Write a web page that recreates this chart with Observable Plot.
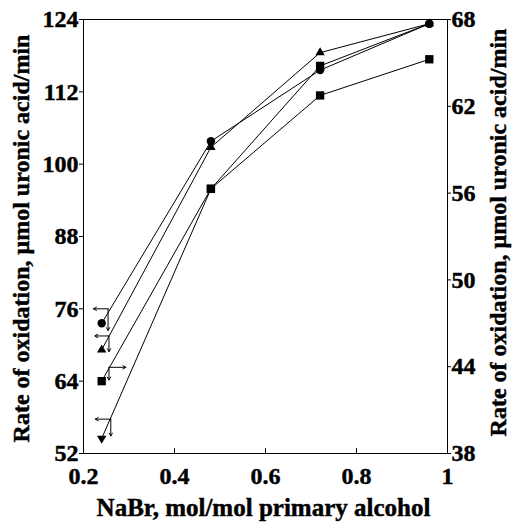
<!DOCTYPE html>
<html>
<head>
<meta charset="utf-8">
<script src="https://cdn.jsdelivr.net/npm/d3@7"></script>
<script src="https://cdn.jsdelivr.net/npm/@observablehq/plot@0.6"></script>
<style>
  html, body { margin: 0; padding: 0; background: #fff; }
  #chart svg text { stroke: black; stroke-width: 0.45px; }
</style>
</head>
<body>
<div id="chart"></div>
<script>
// ---- data ----
const xValues = [0.24, 0.48, 0.72, 0.96];              // NaBr, mol/mol primary alcohol
const circleSeries = [73.6, 103.8, 115.6, 123.3];      // left axis
const triangleSeries = [69.2, 102.8, 118.5, 123.3];    // left axis
const invTriangleSeries = [54.5, 95.9, 116.3, 123.3];  // left axis
const squareSeriesRight = [43.0, 56.3, 62.75, 65.25];  // right axis
const invTriangleSymbols = ["triangle-down", "square", "square", "circle"];

const leftTicks = [52, 64, 76, 88, 100, 112, 124];
const rightTicks = [38, 44, 50, 56, 62, 68];
const xTicks = [0.2, 0.4, 0.6, 0.8, 1];

// axis-indicator arrows (one per series)
const arrowSeries = ["circle", "triangle", "square", "invTriangle"];
const arrowLevel = [76, 71.5, 66.3, 57.7];      // left-axis units
const arrowStartX = [0.254, 0.256, 0.256, 0.26];
const arrowEndX = [0.222, 0.225, 0.293, 0.226];
const arrowDropTo = [72.4, 68.9, 64.2, 54.9];

const xLabel = "NaBr, mol/mol primary alcohol";
const yLabel = "Rate of oxidation, \u03bcmol uronic acid/min";

// ---- helpers ----
const leftMin = 52, leftMax = 124, rightMin = 38, rightMax = 68;
const rightToLeft = r => leftMin + (r - rightMin) * (leftMax - leftMin) / (rightMax - rightMin);
const leftToRight = l => rightMin + (l - leftMin) * (rightMax - rightMin) / (leftMax - leftMin);

const triangleDown = {
  draw(context, size) {
    const s3 = Math.sqrt(3);
    const y = -Math.sqrt(size / (s3 * 3));
    context.moveTo(0, -y * 2);
    context.lineTo(-s3 * y, y);
    context.lineTo(s3 * y, y);
    context.closePath();
  }
};

const seriesDefs = [
  {name: "circle", ys: circleSeries, syms: xValues.map(() => "circle")},
  {name: "triangle", ys: triangleSeries, syms: xValues.map(() => "triangle")},
  {name: "square", ys: squareSeriesRight.map(rightToLeft), syms: xValues.map(() => "square")},
  {name: "invTriangle", ys: invTriangleSeries, syms: invTriangleSymbols}
];

const points = seriesDefs.flatMap(s => s.ys.map((y, i) => ({series: s.name, x: xValues[i], y, sym: s.syms[i]})));

const arrowsH = arrowSeries.map((s, i) => ({x1: arrowStartX[i], x2: arrowEndX[i], y1: arrowLevel[i], y2: arrowLevel[i]}));
const arrowsV = arrowSeries.map((s, i) => ({x1: arrowStartX[i], x2: arrowStartX[i], y1: arrowLevel[i], y2: arrowDropTo[i]}));

const font = "Liberation Serif";
const tickFont = 24;
const labelFont = 24;

const chart = Plot.plot({
  width: 524,
  height: 527,
  marginLeft: 83,
  marginRight: 77,
  marginTop: 19,
  marginBottom: 74,
  x: {type: "linear", domain: [0.2, 1]},
  y: {type: "linear", domain: [leftMin, leftMax]},
  style: {fontFamily: font, fontWeight: "bold", color: "black", background: "white"},
  marks: [
    Plot.frame({stroke: "black", strokeWidth: 1}),
    Plot.axisY(leftTicks, {anchor: "left", tickSize: 4, tickPadding: 1, fontSize: tickFont, fontWeight: "bold", label: null}),
    Plot.axisY(rightTicks.map(rightToLeft), {anchor: "right", tickSize: 3, tickPadding: 1, fontSize: tickFont, fontWeight: "bold", label: null,
      tickFormat: v => String(Math.round(leftToRight(v)))}),
    Plot.axisX(xTicks, {anchor: "bottom", tickSize: 0, tickPadding: 13, fontSize: tickFont, fontWeight: "bold", label: null,
      tickFormat: d => String(d)}),
    Plot.ruleX(xTicks.slice(1, -1), {x: d => d, y1: leftMin, y2: leftMin + 0.8, stroke: "black"}),
    Plot.line(points, {x: "x", y: "y", z: "series", stroke: "black", strokeWidth: 1}),
    Plot.arrow(arrowsH, {x1: "x1", y1: "y1", x2: "x2", y2: "y2", stroke: "black", strokeWidth: 1, headLength: 5, headAngle: 60}),
    Plot.arrow(arrowsV, {x1: "x1", y1: "y1", x2: "x2", y2: "y2", stroke: "black", strokeWidth: 1, headLength: 5, headAngle: 60}),
    Plot.dot(points.filter(d => d.sym === "square"), {x: "x", y: "y", symbol: "square", r: 4.7, fill: "black", stroke: "none"}),
    Plot.dot(points.filter(d => d.sym === "triangle"), {x: "x", y: "y", symbol: "triangle", r: 3.5, fill: "black", stroke: "none"}),
    Plot.dot(points.filter(d => d.sym === "triangle-down"), {x: "x", y: "y", symbol: triangleDown, r: 3.5, fill: "black", stroke: "none"}),
    Plot.dot(points.filter(d => d.sym === "circle"), {x: "x", y: "y", symbol: "circle", r: 4.2, fill: "black", stroke: "none"}),
    Plot.text([yLabel], {text: d => d, frameAnchor: "left", textAnchor: "middle", dx: -62, dy: 2, rotate: -90, fontSize: labelFont, fontWeight: "bold", fill: "black"}),
    Plot.text([yLabel], {text: d => d, frameAnchor: "right", textAnchor: "middle", dx: 51, dy: -4, rotate: -90, fontSize: labelFont, fontWeight: "bold", fill: "black"}),
    Plot.text([xLabel], {text: d => d, frameAnchor: "bottom", dx: -2, dy: 62, fontSize: 25, fontWeight: "bold", fill: "black"})
  ]
});

document.getElementById("chart").appendChild(chart);
</script>
</body>
</html>
